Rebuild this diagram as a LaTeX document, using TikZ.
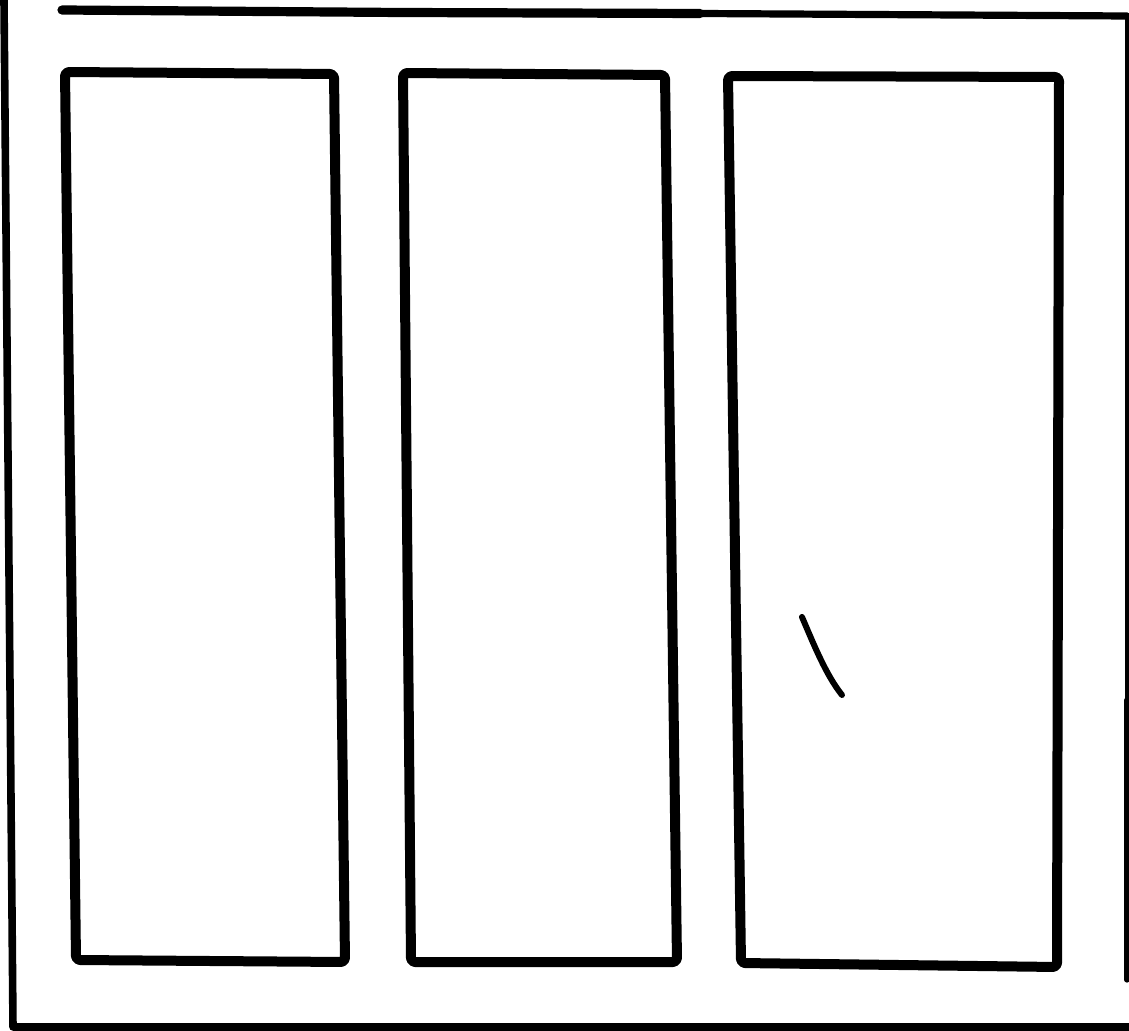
\documentclass[tikz,border=0pt]{standalone}
\begin{document}
\begin{tikzpicture}[x=0.5pt,y=-0.5pt,
  frameline/.style={line width=3.8pt,line cap=round,line join=round},
  panel/.style={line width=5pt,line cap=round,line join=round,rounded corners=2pt},
  scribble/.style={line width=3pt,line cap=round}]
\useasboundingbox[fill=white] (0,0) rectangle (1129,1031);
% outer frame
\coordinate (ftl) at (62,10);
\coordinate (ftr) at (1127,16);
\coordinate (frb) at (1127,980);
\coordinate (flt) at (4,0);
\coordinate (flb) at (13,1027);
\coordinate (fbr) at (1131,1027);
\draw[line width=4.6pt,line cap=round] (ftl) -- (400,12.5) -- (700,13.5);
\draw[line width=3.6pt,line cap=round] (700,13.5) -- (ftr);
\draw[line width=1.8pt,line cap=round] (ftr) -- (1127,700);
\draw[line width=2.6pt,line cap=round] (1127,700) -- (frb);
\draw[frameline] (flt) -- (flb) -- (fbr);
% panel 1
\coordinate (a1) at (65,72);
\coordinate (a2) at (334,74);
\coordinate (a3) at (345,962);
\coordinate (a4) at (76,960);
\draw[panel] (a1) -- (a2) -- (a3) -- (a4) -- cycle;
% panel 2
\coordinate (b1) at (403,73);
\coordinate (b2) at (665,75);
\coordinate (b3) at (677,962);
\coordinate (b4) at (411,962);
\draw[panel] (b1) -- (b2) -- (b3) -- (b4) -- cycle;
% panel 3
\coordinate (c1) at (728,76);
\coordinate (c2) at (1059,77);
\coordinate (c3) at (1057,967);
\coordinate (c4) at (741,963);
\draw[panel] (c1) -- (c2) -- (c3) -- (c4) -- cycle;
% stroke
\coordinate (s1) at (802,617);
\coordinate (s2) at (842,695);
\draw[scribble] (s1) .. controls (814,645) and (826,675) .. (s2);
\end{tikzpicture}
\end{document}
